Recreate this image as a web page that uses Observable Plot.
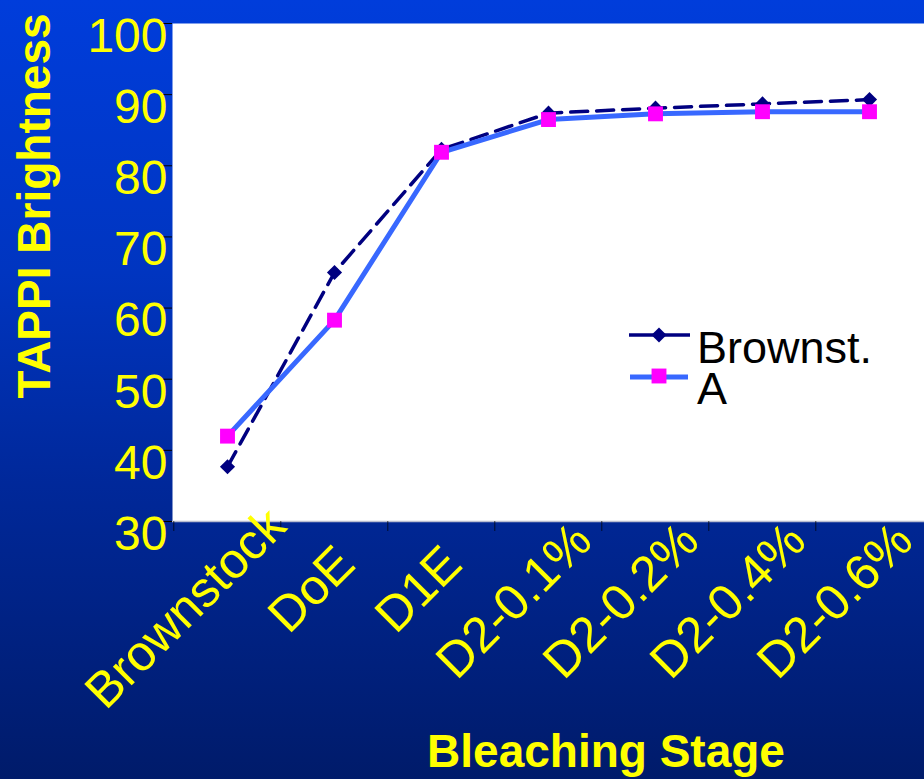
<!DOCTYPE html>
<html><head><meta charset="utf-8">
<script src="https://cdn.jsdelivr.net/npm/d3@7"></script>
<script src="https://cdn.jsdelivr.net/npm/@observablehq/plot@0.6"></script>
<style>
html,body{margin:0;padding:0;}
#chart{position:relative;width:924px;height:779px;overflow:hidden;
  background:linear-gradient(to bottom,#003ddb 0%,#0035c0 35%,#00289a 62%,#001b6a 100%);
  font-family:"Liberation Sans",Arial,sans-serif;}
#chart svg{position:absolute;left:0;top:0;}
</style></head><body><div id="chart"></div>
<script>
// ---- data ----
const categories = ["Brownstock","DoE","D1E","D2-0.1%","D2-0.2%","D2-0.4%","D2-0.6%"];
const brownstValues = [37.7, 65.0, 82.3, 87.4, 88.1, 88.7, 89.3];
const aValues = [42.0, 58.3, 81.9, 86.5, 87.3, 87.6, 87.6];
const seriesNames = ["Brownst.", "A"];
const yTicks = [30, 40, 50, 60, 70, 80, 90, 100];
const yTitle = "TAPPI Brightness";
const xTitle = "Bleaching Stage";

// ---- build ----
const W = 924, H = 779, mL = 172, mR = 0, mT = 23, mB = 258;
const step = (W - mL - mR) / categories.length;
const yMin = 30, yMax = 100;
const xTickLen = 10 * (yMax - yMin) / (H - mT - mB); // 10px expressed in y units
const bData = categories.map((c, i) => ({stage: c, value: brownstValues[i]}));
const aData = categories.map((c, i) => ({stage: c, value: aValues[i]}));
const navy = "#000080", blue = "#3868ff", magenta = "#ff00ff", yellow = "#ffff00";
const rDiamond = 6.8, rSquare = 8.4;

const svg = Plot.plot({
  width: W, height: H,
  marginLeft: mL, marginRight: mR, marginTop: mT, marginBottom: mB,
  style: {background: "transparent", color: "#000", fontFamily: "'Liberation Sans', Arial, sans-serif", overflow: "visible"},
  x: {type: "point", domain: categories, padding: 0.5, axis: null},
  y: {domain: [yMin, yMax], ticks: yTicks, tickSize: 11, tickPadding: 0, tickFormat: () => "", label: null},
  marks: [
    Plot.frame({fill: "white", stroke: null}),
    Plot.ruleY([yMin], {stroke: "#b8bcd0", strokeWidth: 1.5}),
    Plot.ruleX(categories, {x: d => d, y1: yMin, y2: yMin - xTickLen, dx: -step / 2, stroke: "#000", strokeOpacity: 0.7}),
    Plot.text(yTicks, {y: d => d, text: d => String(d), frameAnchor: "left", textAnchor: "end",
      dx: -5, dy: 13, fontSize: 48, fill: yellow}),
    Plot.line(bData, {x: "stage", y: "value", stroke: navy, strokeWidth: 3.5, strokeDasharray: "17,9"}),
    Plot.dot(bData, {x: "stage", y: "value", symbol: "diamond2", r: rDiamond, fill: navy, stroke: null}),
    Plot.line(aData, {x: "stage", y: "value", stroke: blue, strokeWidth: 5}),
    Plot.dot(aData, {x: "stage", y: "value", symbol: "square", r: rSquare, fill: magenta, stroke: null}),
    Plot.text(categories, {x: d => d, frameAnchor: "bottom", text: d => d, rotate: -45,
      textAnchor: "middle", lineAnchor: "bottom", dy: 68, fontSize: 50, fill: yellow})
  ]
});
const chart = document.getElementById("chart");
chart.appendChild(svg);

// shift rotated category labels along their baseline (label anchored at 2/3 of its length)
d3.select(svg).selectAll("text").each(function () {
  if (!categories.includes(this.textContent)) return;
  const L = this.getComputedTextLength();
  d3.select(this).attr("dx", -L / 6);
});

// ---- titles and legend ----
const ov = d3.select(chart).append("svg").attr("width", W).attr("height", H)
  .style("font-family", "'Liberation Sans', Arial, sans-serif");

ov.append("text").attr("transform", "translate(50,206) rotate(-90)")
  .attr("text-anchor", "middle").attr("font-weight", "bold").attr("font-size", 46)
  .attr("fill", yellow).text(yTitle);
ov.append("text").attr("x", 606).attr("y", 767)
  .attr("text-anchor", "middle").attr("font-weight", "bold").attr("font-size", 46)
  .attr("fill", yellow).text(xTitle);

const lg = ov.append("g");
lg.append("line").attr("x1", 629).attr("x2", 690).attr("y1", 335).attr("y2", 335)
  .attr("stroke", navy).attr("stroke-width", 3.5);
lg.append("path").attr("transform", "translate(659,335)")
  .attr("d", d3.symbol(d3.symbolDiamond2, rDiamond * rDiamond * Math.PI)()).attr("fill", navy);
lg.append("text").attr("x", 697).attr("y", 363).attr("font-size", 45).attr("fill", "#000").text(seriesNames[0]);
lg.append("line").attr("x1", 630).attr("x2", 688).attr("y1", 377).attr("y2", 377)
  .attr("stroke", blue).attr("stroke-width", 5);
lg.append("path").attr("transform", "translate(659,376)")
  .attr("d", d3.symbol(d3.symbolSquare, rSquare * rSquare * Math.PI)()).attr("fill", magenta);
lg.append("text").attr("x", 697).attr("y", 404).attr("font-size", 45).attr("fill", "#000").text(seriesNames[1]);
</script>
</body></html>
